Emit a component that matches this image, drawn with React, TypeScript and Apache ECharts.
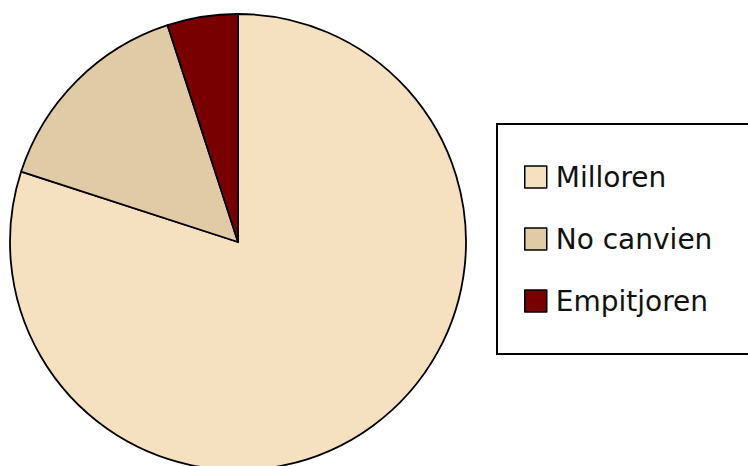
import React, { useEffect, useRef } from "react";
import * as echarts from "echarts";

const categories = ["Milloren", "No canvien", "Empitjoren"];
const values = [80, 15, 5];
const colors = ["#F5E0C0", "#E0CBA6", "#780000"];

export default function App() {
  const ref = useRef<HTMLDivElement>(null);
  useEffect(() => {
    document.body.style.margin = "0";
    const chart = echarts.init(ref.current!, null, { renderer: "svg" });
    chart.setOption({
      animation: false,
      backgroundColor: "#ffffff",
      legend: {
        orient: "vertical",
        left: 497,
        top: 124,
        data: categories,
        itemWidth: 22,
        itemHeight: 22,
        itemGap: 34,
        padding: [39, 80, 39, 27],
        borderColor: "#000000",
        borderWidth: 2,
        selectedMode: false,
        icon: "rect",
        itemStyle: { borderColor: "#000000", borderWidth: 1.5 },
        textStyle: {
          fontFamily: "DejaVu Sans",
          fontSize: 28,
          color: "#111111",
          padding: [0, 0, 0, 4],
        },
      },
      series: [
        {
          type: "pie",
          center: [238, 242],
          radius: 228,
          startAngle: 90,
          clockwise: true,
          label: { show: false },
          labelLine: { show: false },
          emphasis: { disabled: true },
          itemStyle: { borderColor: "#000000", borderWidth: 1.8 },
          data: categories.map((name, i) => ({
            name,
            value: values[i],
            itemStyle: { color: colors[i] },
          })),
        },
      ],
    });
    return () => chart.dispose();
  }, []);
  return <div ref={ref} style={{ width: 748, height: 466 }} />;
}
